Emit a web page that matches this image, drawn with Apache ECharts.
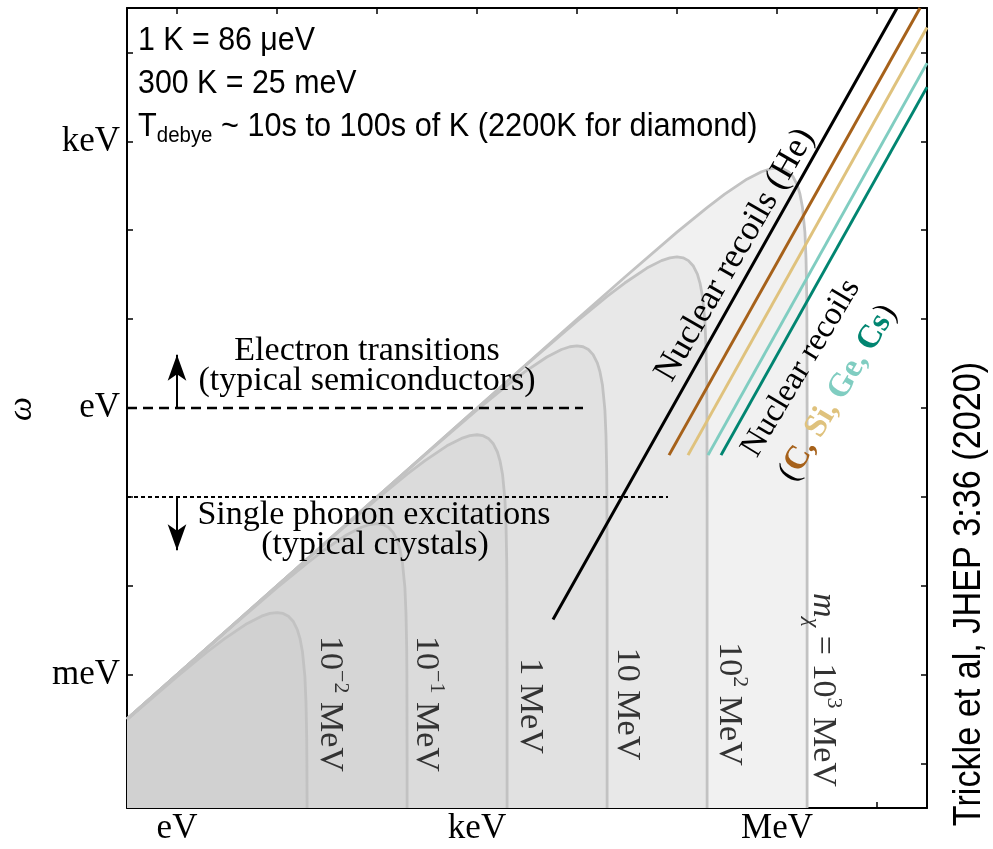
<!DOCTYPE html>
<html lang="en">
<head>
<meta charset="UTF-8">
<title>DM scattering kinematics</title>
<script src="https://cdn.jsdelivr.net/npm/echarts@6/dist/echarts.min.js"></script>
<style>
    html, body {margin: 0; padding: 0; background: #fff;}
    #main {width: 993px; height: 849px;}
</style>
</head>
<body>
<div id="main"></div>
<script>
// every value is log10 of (q / eV) or (omega / eV)
var xTickValues = [0, 1, 2, 3, 4, 5, 6, 7];
var xTickNames = {'0': 'eV', '3': 'keV', '6': 'MeV'};
var yTickValues = [-4, -3, -2, -1, 0, 1, 2, 3, 4];
var yTickNames = {'-3': 'meV', '0': 'eV', '3': 'keV'};

// allowed region for each dark matter mass  [log q, log omega]
var curve1e3 = [[-0.5,-3.5],[4,0.998],[4.477,1.471],[5,1.978],[5.301,2.255],[5.477,2.406],[5.699,2.574],[5.845,2.658],[5.929,2.689],[6,2.699],[6.061,2.689],[6.114,2.658],[6.161,2.601],[6.204,2.505],[6.23,2.406],[6.255,2.255],[6.279,1.978],[6.29,1.688],[6.297,1.297],[6.299,0.998],[6.301,0],[6.301,-4.5]];
var curve1e2 = [[-0.5,-3.5],[3,-0.002],[3.477,0.471],[4,0.978],[4.301,1.255],[4.477,1.406],[4.699,1.574],[4.845,1.658],[4.929,1.689],[5,1.699],[5.061,1.689],[5.114,1.658],[5.161,1.601],[5.204,1.505],[5.23,1.406],[5.255,1.255],[5.279,0.978],[5.29,0.688],[5.297,0.297],[5.299,-0.002],[5.301,-1],[5.301,-4.5]];
var curve1e1 = [[-0.5,-3.5],[2,-1.002],[2.477,-0.529],[3,-0.022],[3.301,0.255],[3.477,0.406],[3.699,0.574],[3.845,0.658],[3.929,0.689],[4,0.699],[4.061,0.689],[4.114,0.658],[4.161,0.601],[4.204,0.505],[4.23,0.406],[4.255,0.255],[4.279,-0.022],[4.29,-0.312],[4.297,-0.703],[4.299,-1.002],[4.301,-2],[4.301,-4.5]];
var curve1e0 = [[-0.5,-3.5],[1,-2.002],[1.477,-1.529],[2,-1.022],[2.301,-0.745],[2.477,-0.594],[2.699,-0.426],[2.845,-0.342],[2.929,-0.311],[3,-0.301],[3.061,-0.311],[3.114,-0.342],[3.161,-0.399],[3.204,-0.495],[3.23,-0.594],[3.255,-0.745],[3.279,-1.022],[3.29,-1.312],[3.297,-1.703],[3.299,-2.002],[3.301,-3],[3.301,-4.5]];
var curve1em1 = [[-0.5,-3.5],[0,-3.002],[0.477,-2.529],[1,-2.022],[1.301,-1.745],[1.477,-1.594],[1.699,-1.426],[1.845,-1.342],[1.929,-1.311],[2,-1.301],[2.061,-1.311],[2.114,-1.342],[2.161,-1.399],[2.204,-1.495],[2.23,-1.594],[2.255,-1.745],[2.279,-2.022],[2.29,-2.312],[2.297,-2.703],[2.299,-3.002],[2.301,-4],[2.301,-4.5]];
var curve1em2 = [[-0.5,-3.507],[0,-3.022],[0.301,-2.745],[0.477,-2.594],[0.699,-2.426],[0.845,-2.342],[0.929,-2.311],[1,-2.301],[1.061,-2.311],[1.114,-2.342],[1.161,-2.399],[1.204,-2.495],[1.23,-2.594],[1.255,-2.745],[1.279,-3.022],[1.29,-3.312],[1.297,-3.703],[1.299,-4.002],[1.301,-4.5]];

// nuclear recoil lines
var recoilHe = [[3.76,-2.38],[7.2,4.5]];
var recoilC  = [[4.92,-0.53],[7.43,4.5]];
var recoilSi = [[5.11,-0.53],[7.5,4.28]];
var recoilGe = [[5.31,-0.53],[7.5,3.88]];
var recoilCs = [[5.44,-0.53],[7.5,3.61]];

// thresholds
var electronLine = [[-0.5,0],[4.06,0]];
var phononLine = [[-0.5,-1],[4.91,-1]];

var serif = "'Liberation Serif', 'Times New Roman', serif";
var sans = "'Liberation Sans', Arial, sans-serif";

var curves = [curve1e3, curve1e2, curve1e1, curve1e0, curve1em1, curve1em2];
var fills = ['#f1f1f1', '#e8e8e8', '#e1e1e1', '#dbdbdb', '#d6d6d6', '#d1d1d1'];

var series = [];
for (var i = 0; i < curves.length; i++) {
    series.push({
        type: 'line',
        data: curves[i],
        symbol: 'none',
        silent: true,
        lineStyle: {color: '#c2c2c2', width: 2.8},
        areaStyle: {color: fills[i], opacity: 1, origin: 'start'}
    });
}

function straight(data, color, width, type) {
    return {
        type: 'line', data: data, symbol: 'none', silent: true,
        lineStyle: {color: color, width: width, type: type || 'solid'}
    };
}
series.push(straight(electronLine, '#000', 2.5, [10, 6]));
var phonon = straight(phononLine, '#000', 2, [4, 3]);
phonon.markLine = {
    silent: true,
    symbol: ['none', 'arrow'],
    symbolSize: [14, 26],
    label: {show: false},
    lineStyle: {color: '#000', width: 2, type: 'solid'},
    data: [
        [{coord: [0, 0]}, {coord: [0, 0.6]}],
        [{coord: [0, -1]}, {coord: [0, -1.6]}]
    ]
};
series.push(phonon);
series.push(straight(recoilHe, '#000', 3));
series.push(straight(recoilC, '#a6611a', 3));
series.push(straight(recoilSi, '#dfc27d', 3));
series.push(straight(recoilGe, '#80cdc1', 3));
series.push(straight(recoilCs, '#018571', 3));

function axisCommon(ticks, names, pos, showLabel) {
    return {
        type: 'value',
        position: pos,
        axisLine: {onZero: false, lineStyle: {color: '#000', width: 2}},
        axisTick: {inside: true, length: 6, customValues: ticks, lineStyle: {color: '#000', width: 1.5}},
        axisLabel: {
            show: showLabel,
            customValues: [3, 0, -3, 6].filter(function (v) { return names[String(v)]; }),
            formatter: function (v) { return names[String(v)] || ''; },
            fontFamily: serif, fontSize: 35, color: '#000', margin: pos === 'bottom' ? 3 : 7
        },
        splitLine: {show: false}
    };
}

var xBottom = axisCommon(xTickValues, xTickNames, 'bottom', true);
var xTop = axisCommon(xTickValues, xTickNames, 'top', false);
var yLeft = axisCommon(yTickValues, yTickNames, 'left', true);
var yRight = axisCommon(yTickValues, yTickNames, 'right', false);
[xBottom, xTop].forEach(function (a) { a.min = -0.5; a.max = 7.5; });
[yLeft, yRight].forEach(function (a) { a.min = -4.5; a.max = 4.5; });

var sup = {fontSize: 22, fontFamily: serif, verticalAlign: 'top', lineHeight: 22, fill: '#333'};
function massText(txt, x, y) {
    return {
        type: 'text', x: x, y: y, z: 100, rotation: -Math.PI / 2, silent: true,
        style: {
            text: txt, fontFamily: serif, fontSize: 34, lineHeight: 44, fill: '#333',
            align: 'center', verticalAlign: 'middle',
            rich: {
                sup: sup,
                it: {fontSize: 34, fontFamily: serif, fontStyle: 'italic', lineHeight: 44, fill: '#333'},
                sub: {fontSize: 22, fontFamily: serif, fontStyle: 'italic', verticalAlign: 'bottom', lineHeight: 34, fill: '#333'}
            }
        }
    };
}
function plainText(txt, x, y, font, size, rot, extra, scaleX) {
    var st = {text: txt, fontFamily: font, fontSize: size, fill: '#000', align: 'center', verticalAlign: 'middle'};
    for (var k in extra) st[k] = extra[k];
    return {type: 'text', x: x, y: y, z: 100, rotation: rot || 0, scaleX: scaleX || 1, silent: true, style: st};
}
var deg = Math.PI / 180;

var graphics = [
    plainText('1 K = 86 μeV', 138, 41, sans, 33, 0, {align: 'left'}, 0.92),
    plainText('300 K = 25 meV', 138, 84, sans, 33, 0, {align: 'left'}, 0.92),
    plainText('T{sub|debye} ~ 10s to 100s of K (2200K for diamond)', 138, 127, sans, 33, 0, {
        align: 'left', lineHeight: 40,
        rich: {sub: {fontSize: 22, fontFamily: sans, verticalAlign: 'bottom', lineHeight: 26, fill: '#000'}}
    }, 0.93),
    plainText('Electron transitions', 367, 351, serif, 34),
    plainText('(typical semiconductors)', 367, 381, serif, 34),
    plainText('Single phonon excitations', 374, 515, serif, 34),
    plainText('(typical crystals)', 375, 545, serif, 34),
    plainText('Nuclear recoils (He)', 735, 255, serif, 35, 60 * deg),
    plainText('Nuclear recoils', 801, 368, serif, 33, 59 * deg),
    plainText('({c|C,} {si|Si,} {ge|Ge,} {cs|Cs})', 838, 393, serif, 33, 59 * deg, {
        rich: {
            c: {fontSize: 33, fontFamily: serif, fontWeight: 'bold', fill: '#a6611a'},
            si: {fontSize: 33, fontFamily: serif, fontWeight: 'bold', fill: '#dfc27d'},
            ge: {fontSize: 33, fontFamily: serif, fontWeight: 'bold', fill: '#80cdc1'},
            cs: {fontSize: 33, fontFamily: serif, fontWeight: 'bold', fill: '#018571'}
        }
    }),
    massText('10{sup|−2} MeV', 330, 704),
    massText('10{sup|−1} MeV', 426, 704),
    massText('1 MeV', 530, 706),
    massText('10 MeV', 627, 704),
    massText('10{sup|2} MeV', 729, 704),
    massText('{it|m}{sub|χ} = 10{sup|3} MeV', 823, 690),
    plainText('ω', 22, 409, serif, 34, Math.PI / 2, {fontStyle: 'italic'}),
    plainText('Trickle et al, JHEP 3:36 (2020)', 970, 594, sans, 38, Math.PI / 2, null, 0.9)
];

var chart = echarts.init(document.getElementById('main'));
chart.setOption({
    animation: false,
    backgroundColor: '#fff',
    grid: {left: 127, top: 8, width: 800, height: 800, containLabel: false},
    xAxis: [xBottom, xTop],
    yAxis: [yLeft, yRight],
    series: series,
    graphic: graphics
});
</script>
</body>
</html>
